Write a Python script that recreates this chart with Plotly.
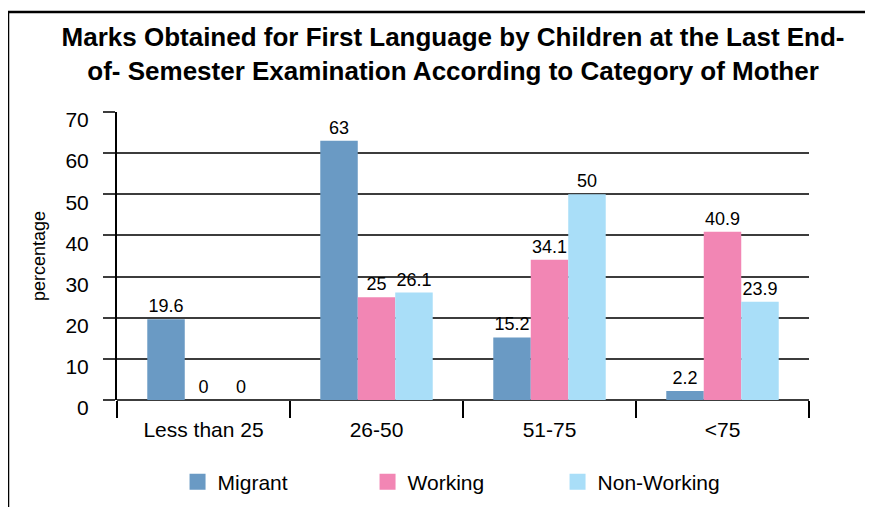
import plotly.graph_objects as go

# Marks for first language, by category of mother (percent)
categories = ["Less than 25", "26-50", "51-75", "<75"]
migrant = [19.6, 63, 15.2, 2.2]
working = [0, 25, 34.1, 40.9]
non_working = [0, 26.1, 50, 23.9]

y_ticks = [0, 10, 20, 30, 40, 50, 60, 70]

series = [
    ("Migrant", migrant, "#6A9AC4"),
    ("Working", working, "#F286B4"),
    ("Non-Working", non_working, "#A9DEF8"),
]

FONT = "Liberation Sans, Arial, Helvetica, sans-serif"
GRID = "#3c3c3c"

fig = go.Figure()

for name, values, color in series:
    fig.add_trace(go.Bar(
        x=categories, y=values,
        name=name,
        marker=dict(color=color, line=dict(width=0)),
        text=[f"{v:g}" for v in values],
        textposition="outside",
        textfont=dict(size=18, color="black", family=FONT),
        cliponaxis=False,
        showlegend=False,
    ))
    # legend swatch only (bigger square than the bar legend icon)
    fig.add_trace(go.Scatter(
        x=[None], y=[None], mode="markers", name=name,
        marker=dict(symbol="square", size=16, color=color),
    ))

# outer frame of the original picture (left and top edges visible)
fig.add_shape(
    type="rect", xref="paper", yref="paper",
    x0=-0.1575, x1=1.11, y0=-0.45, y1=1.347,
    line=dict(color="black", width=2.5), layer="above",
)

# page body adds an 8px margin, so the figure is 8px smaller each way
fig.update_layout(
    width=865, height=499,
    margin=dict(l=109, r=64, t=104, b=107),
    paper_bgcolor="white", plot_bgcolor="white",
    font=dict(family=FONT, color="black"),
    title=dict(
        text="Marks Obtained for First Language by Children at the Last End-<br>"
             "of- Semester Examination According to Category of Mother",
        font=dict(size=26, family=FONT, color="black", weight="bold"),
        x=0.5145, xanchor="center", y=0.924, yanchor="top",
    ),
    barmode="group", bargap=0.35, bargroupgap=0,
    legend=dict(
        orientation="h", x=0.0875, xanchor="left",
        yref="container", y=0.05, yanchor="middle",
        font=dict(size=21, family=FONT), entrywidth=145, entrywidthmode="pixels",
        bgcolor="rgba(0,0,0,0)",
    ),
)

fig.update_xaxes(
    tickson="boundaries", ticks="outside", ticklen=17, tickwidth=2, tickcolor="black",
    tickfont=dict(size=21), showgrid=False, showline=False,
    ticklabelstandoff=15, automargin=False,
)
fig.update_yaxes(
    range=[0, 70], tickvals=y_ticks, ticks="outside", ticklen=12, tickwidth=1.5,
    tickcolor=GRID, showgrid=True, gridcolor=GRID, gridwidth=1.5,
    zeroline=True, zerolinecolor=GRID, zerolinewidth=1.5,
    showline=True, linecolor="black", linewidth=2,
    tickfont=dict(size=21), ticklabelstandoff=10, ticklabelshift=8,
    title=dict(text="percentage", font=dict(size=18), standoff=15),
    automargin=False,
)

fig.write_html("out.html")
